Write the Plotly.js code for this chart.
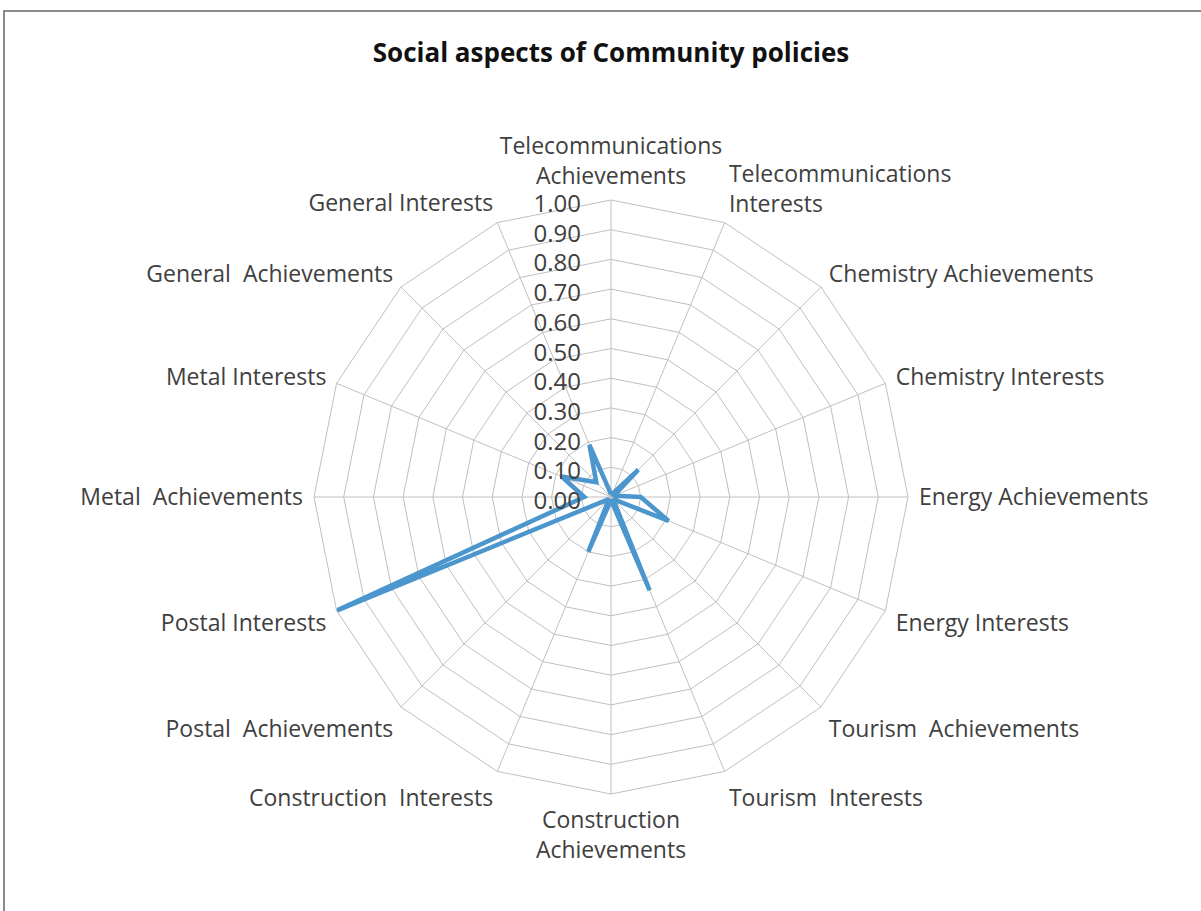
<!DOCTYPE html>
<html>
<head>
<meta charset="utf-8">
<script src="https://cdn.plot.ly/plotly-3.0.1.min.js"></script>
<style>html,body{margin:0;padding:0;background:#fff;}#chart{width:1201px;height:911px;}</style>
</head>
<body>
<div id="chart"></div>
<script>
const categories = [
  "Telecommunications<br>Achievements",
  "Telecommunications<br>Interests",
  "Chemistry Achievements",
  "Chemistry Interests",
  "Energy Achievements",
  "Energy Interests",
  "Tourism  Achievements",
  "Tourism  Interests",
  "Construction<br>Achievements",
  "Construction  Interests",
  "Postal  Achievements",
  "Postal Interests",
  "Metal  Achievements",
  "Metal Interests",
  "General  Achievements",
  "General Interests"
];
const values = [0.01, 0.01, 0.13, 0.01, 0.10, 0.21, 0.01, 0.34, 0.01, 0.20, 0.01, 1.00, 0.09, 0.18, 0.07, 0.19];
const radialTicks = [0, 0.1, 0.2, 0.3, 0.4, 0.5, 0.6, 0.7, 0.8, 0.9, 1.0];
const titleText = "Social aspects of Community policies";

const r = values.concat([values[0]]);
const theta = categories.concat([categories[0]]);

const cx = 611, cy = 497, rad = 297, W = 1201, H = 911;

const data = [{
  type: 'scatterpolar',
  r: r,
  theta: theta,
  mode: 'lines',
  line: {color: '#4a96cd', width: 4.5},
  hoverinfo: 'skip'
}];

const layout = {
  width: W, height: H,
  margin: {l: 0, r: 0, t: 0, b: 0},
  paper_bgcolor: '#ffffff',
  showlegend: false,
  font: {family: 'Open Sans, sans-serif', color: '#404040'},
  title: {
    text: '<b>' + titleText + '</b>',
    x: 611/W, xanchor: 'center',
    y: 1 - 53/H, yanchor: 'middle',
    font: {family: 'Open Sans, sans-serif', size: 26, color: '#111111'}
  },
  polar: {
    domain: {x: [(cx - rad)/W, (cx + rad)/W], y: [(H - cy - rad)/H, (H - cy + rad)/H]},
    gridshape: 'linear',
    bgcolor: '#ffffff',
    angularaxis: {
      direction: 'clockwise',
      rotation: 90,
      type: 'category',
      categoryarray: categories,
      showline: true,
      linecolor: '#c0c0c0',
      linewidth: 1,
      gridcolor: '#c0c0c0',
      gridwidth: 1,
      ticks: 'outside',
      ticklen: 6,
      tickcolor: 'rgba(0,0,0,0)',
      tickfont: {size: 23, color: '#404040'}
    },
    radialaxis: {
      range: [0, 1],
      tickvals: radialTicks,
      tickformat: '.2f',
      angle: 90,
      side: 'counterclockwise',
      showline: false,
      gridcolor: '#c0c0c0',
      gridwidth: 1,
      ticks: 'outside',
      ticklen: 8,
      tickcolor: 'rgba(0,0,0,0)',
      tickfont: {size: 24, color: '#404040'}
    }
  },
  shapes: [{
    type: 'rect', xref: 'paper', yref: 'paper',
    x0: 4/W, x1: 1.02, y0: -0.02, y1: 1 - 11/H,
    line: {color: '#8a8a8a', width: 2},
    fillcolor: 'rgba(0,0,0,0)'
  }]
};

Plotly.newPlot('chart', data, layout, {displayModeBar: false, staticPlot: true});
</script>
</body>
</html>
